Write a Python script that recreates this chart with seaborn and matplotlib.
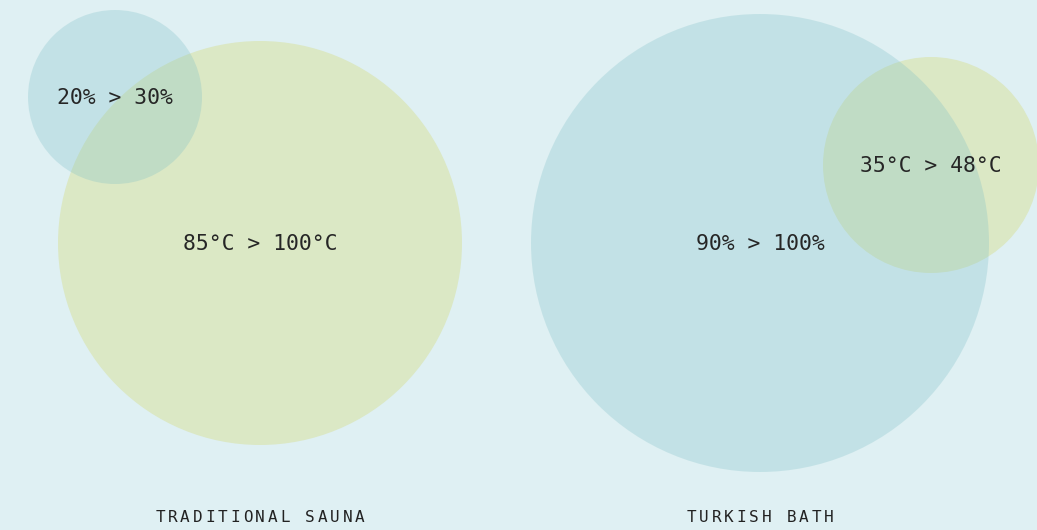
import numpy as np
import matplotlib
matplotlib.use('Agg')
import matplotlib.pyplot as plt
from matplotlib.patches import Circle
import seaborn as sns

# data
spaces = ['TRADITIONAL SAUNA', 'TURKISH BATH']
humidity_lo = [20, 90]
humidity_hi = [30, 100]
temp_lo = [85, 35]
temp_hi = [100, 48]

# layout (pixel coords, y down)
hum_xy = [(115, 97), (760, 243)]
hum_r = [87, 229]
temp_xy = [(260, 243), (931, 165)]
temp_r = [202, 108]
label_y = 517
text_dy = 1.5

bg = '#dff0f3'
green = '#dbe8c5'
blue = '#82c1c8'
ink = '#262626'

sns.set_theme(style='white')
plt.rcParams['font.family'] = ['DejaVu Sans Mono']

fig = plt.figure(figsize=[10.37, 5.30], dpi=100)
fig.patch.set_facecolor(bg)
ax = fig.add_axes([0, 0, 1, 1])
ax.set_facecolor(bg)
ax.set_xlim(0, 1037)
ax.set_ylim(530, 0)
ax.set_aspect('equal')
ax.axis('off')


def spaced_text(x, y, s, step, **kw):
    # centre a string with extra letter spacing
    n = len(s)
    x0 = x - step * (n - 1) / 2.0
    for i, ch in enumerate(s):
        ax.text(x0 + i * step, y, ch, ha='center', va='center', **kw)


for i in range(len(spaces)):
    ax.add_patch(Circle(temp_xy[i], temp_r[i], color=green, lw=0, zorder=1))
    ax.add_patch(Circle(hum_xy[i], hum_r[i], color=blue, alpha=0.3, lw=0, zorder=2))
    ax.text(hum_xy[i][0], hum_xy[i][1] + text_dy, '%d%% > %d%%' % (humidity_lo[i], humidity_hi[i]),
            ha='center', va='center', fontsize=15.4, color=ink, zorder=3)
    ax.text(temp_xy[i][0], temp_xy[i][1] + text_dy, '%d°C > %d°C' % (temp_lo[i], temp_hi[i]),
            ha='center', va='center', fontsize=15.4, color=ink, zorder=3)
    spaced_text(temp_xy[0][0] if i == 0 else hum_xy[1][0], label_y, spaces[i], 12.5,
                fontsize=11.5, color='#222222')

fig.savefig('out.png', dpi=100, facecolor=bg)
